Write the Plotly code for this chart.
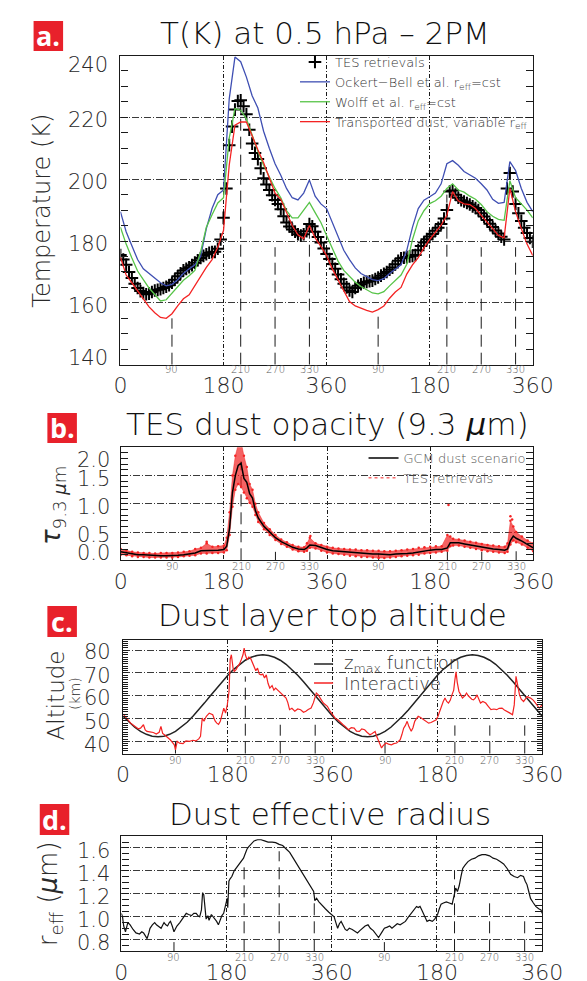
import plotly.graph_objects as go

# ---------------------------------------------------------------- data
LS_10 = list(range(0, 721, 10))
LS_5 = list(range(0, 721, 5))

# panel a : temperature at 0.5 hPa, 2PM (K)
T_OCKERT_BELL = [189.5, 183.0, 178.5, 174.0, 171.0, 169.5, 168.2, 166.5, 165.5, 166.0,
                 167.5, 169.5, 171.0, 172.3, 175.0, 184.0, 190.5, 195.0, 196.5, 226.0,
                 239.5, 238.0, 233.0, 227.0, 223.0, 215.5, 210.0, 205.0, 201.3, 197.0,
                 194.0, 193.3, 195.5, 199.7, 194.5, 192.0, 190.5, 186.0, 181.5, 177.0,
                 174.0, 171.3, 169.5, 168.4, 167.5, 167.2, 167.8, 169.5, 171.0, 172.3,
                 177.0, 184.5, 190.5, 193.2, 194.3, 195.5, 198.5, 205.0, 206.0, 204.5,
                 202.5, 201.5, 200.3, 198.5, 196.5, 193.5, 192.2, 192.5, 205.7, 202.8,
                 197.0, 192.5, 189.5]
T_WOLFF = [184.5, 179.0, 174.5, 170.3, 167.5, 164.8, 162.7, 160.6, 161.0, 163.0,
           165.0, 167.3, 168.8, 170.5, 176.5, 184.5, 188.5, 192.3, 194.0, 213.3,
           222.8, 222.3, 219.5, 214.0, 209.0, 204.5, 200.5, 197.0, 194.0, 189.8,
           187.5, 187.5, 190.0, 192.5, 189.2, 186.0, 181.8, 177.5, 173.5, 170.5,
           168.5, 166.7, 165.3, 164.2, 163.2, 162.9, 163.6, 165.5, 167.3, 169.0,
           172.5, 180.5, 186.5, 189.8, 192.1, 193.0, 194.5, 197.0, 198.5, 196.5,
           195.8, 194.5, 193.5, 191.8, 189.5, 188.0, 187.0, 186.7, 199.5, 194.0,
           192.0, 190.0, 187.5]
T_TRANSPORTED = [174.8, 169.0, 166.5, 164.0, 161.2, 158.7, 156.8, 155.3, 155.0, 156.5,
                 159.0, 161.3, 162.6, 165.5, 168.8, 171.5, 174.0, 178.0, 183.4, 204.6,
                 217.5, 218.5, 218.5, 213.8, 209.5, 205.3, 200.5, 195.5, 193.5, 189.5,
                 185.0, 182.0, 180.7, 185.0, 181.0, 178.3, 175.3, 171.0, 167.6, 164.2,
                 160.4, 159.0, 158.2, 157.6, 157.0, 157.8, 159.0, 161.5, 163.5, 165.0,
                 169.3, 172.3, 174.6, 177.8, 180.5, 182.9, 185.1, 188.3, 196.0, 193.0,
                 192.0, 191.8, 190.5, 188.3, 186.3, 184.0, 181.8, 181.0, 197.0, 189.5,
                 184.0, 179.0, 175.3]
T_TES = [175.5, 174.0, 172.3, 170.0, 168.0, 166.2, 164.8, 163.8, 163.2, 162.8,
         163.0, 163.5, 164.0, 164.2, 164.4, 164.8, 165.2, 165.7, 166.5, 167.5,
         168.6, 169.6, 170.5, 171.0, 171.5, 172.2, 173.0, 173.8, 174.5, 175.2,
         175.7, 176.2, 176.4, 176.5, 177.5, 180.5, 187.5, 197.0, 211.0, 217.0,
         222.5, 225.3, 225.5, 223.6, 221.0, 216.0, 211.5, 208.5, 206.5, 203.5,
         200.3, 198.3, 196.5, 194.8, 193.3, 192.0, 190.3, 188.0, 186.0, 184.7,
         183.7, 183.0, 182.2, 181.8, 182.2, 183.2, 185.5, 184.8, 183.0, 181.3,
         179.5, 177.6, 175.8, 174.2, 172.6, 171.0, 169.2, 167.6, 166.2, 165.0,
         164.0, 163.5, 164.8, 165.5, 166.0, 166.5, 166.8, 167.0, 167.2, 167.7,
         168.2, 168.8, 169.4, 170.0, 170.7, 171.4, 172.5, 173.6, 174.4, 174.6,
         174.8, 175.0, 175.2, 175.5, 177.0, 178.4, 179.5, 180.6, 181.5, 182.3,
         183.3, 184.3, 185.5, 187.3, 190.0, 196.0, 196.3, 195.0, 194.0, 193.2,
         192.8, 192.3, 191.8, 191.2, 190.7, 190.0, 189.0, 187.9, 186.8, 185.6,
         184.5, 183.4, 182.4, 181.4, 180.5, 197.0, 202.0, 196.0, 192.0, 189.0,
         186.5, 184.3, 182.6, 181.0, 179.8]

# panel b : dust opacity at 9.3 micron
LS_TAU = [0, 10, 20, 30, 40, 50, 60, 70, 80, 90,
          100, 110, 120, 130, 140, 150, 160, 170, 180, 185,
          190, 195, 200, 205, 210, 215, 220, 225, 230, 235,
          240, 250, 260, 270, 280, 290, 300, 310, 320, 325,
          330, 340, 350, 360, 370, 380, 390, 400, 410, 420,
          430, 440, 450, 460, 470, 480, 490, 500, 510, 520,
          530, 540, 550, 560, 570, 575, 580, 590, 600, 610,
          620, 630, 640, 650, 660, 670, 675, 680, 685, 690,
          700, 710, 720]
TAU_GCM = [0.15, 0.13, 0.11, 0.10, 0.10, 0.09, 0.08, 0.08, 0.08, 0.08,
           0.09, 0.10, 0.11, 0.13, 0.17, 0.17, 0.18, 0.18, 0.19, 0.25,
           0.57, 1.20, 1.50, 1.68, 1.72, 1.45, 1.38, 1.18, 1.10, 0.88,
           0.75, 0.60, 0.50, 0.40, 0.33, 0.28, 0.23, 0.20, 0.19, 0.22,
           0.27, 0.26, 0.22, 0.19, 0.17, 0.16, 0.15, 0.14, 0.13, 0.12,
           0.12, 0.11, 0.11, 0.10, 0.10, 0.11, 0.11, 0.12, 0.13, 0.15,
           0.17, 0.18, 0.19, 0.19, 0.22, 0.31, 0.31, 0.31, 0.29, 0.27,
           0.25, 0.23, 0.21, 0.20, 0.19, 0.18, 0.20, 0.35, 0.43, 0.39,
           0.34, 0.28, 0.22]
TAU_TES_LO = [0.10, 0.09, 0.07, 0.06, 0.06, 0.05, 0.05, 0.05, 0.05, 0.05,
              0.06, 0.07, 0.08, 0.09, 0.12, 0.12, 0.13, 0.13, 0.14, 0.18,
              0.45, 0.95, 1.25, 1.35, 1.30, 1.20, 1.10, 1.02, 0.95, 0.80,
              0.68, 0.55, 0.45, 0.36, 0.29, 0.24, 0.19, 0.16, 0.15, 0.17,
              0.22, 0.21, 0.17, 0.14, 0.12, 0.11, 0.10, 0.08, 0.07, 0.06,
              0.06, 0.05, 0.04, 0.04, 0.05, 0.06, 0.07, 0.08, 0.09, 0.10,
              0.12, 0.13, 0.14, 0.15, 0.17, 0.25, 0.26, 0.26, 0.24, 0.22,
              0.20, 0.18, 0.16, 0.15, 0.14, 0.13, 0.15, 0.28, 0.35, 0.32,
              0.28, 0.22, 0.16]
TAU_TES_HI = [0.20, 0.17, 0.15, 0.14, 0.13, 0.13, 0.12, 0.13, 0.13, 0.13,
              0.14, 0.15, 0.16, 0.20, 0.22, 0.30, 0.24, 0.25, 0.26, 0.40,
              0.85, 1.50, 1.85, 2.05, 2.10, 1.85, 1.65, 1.35, 1.25, 1.00,
              0.85, 0.66, 0.55, 0.45, 0.37, 0.32, 0.27, 0.24, 0.23, 0.30,
              0.40, 0.30, 0.27, 0.24, 0.22, 0.21, 0.20, 0.19, 0.19, 0.18,
              0.18, 0.17, 0.17, 0.16, 0.16, 0.17, 0.18, 0.19, 0.20, 0.22,
              0.23, 0.24, 0.25, 0.25, 0.45, 0.42, 0.38, 0.37, 0.35, 0.33,
              0.31, 0.29, 0.27, 0.26, 0.25, 0.24, 0.30, 0.70, 0.60, 0.50,
              0.42, 0.35, 0.30]
LS_TAU_OUT = [150, 203, 207, 212, 331, 572, 680, 683]
TAU_TES_OUT = [0.33, 2.08, 2.12, 2.05, 0.43, 0.98, 0.78, 0.72]

# panel c : dust layer top altitude (km)
Z_MAX = [51.0, 48.4, 46.2, 44.4, 43.1, 42.3, 42.0, 42.3, 43.1, 44.4,
         46.2, 48.4, 51.0, 53.8, 56.9, 60.0, 63.1, 66.2, 69.0, 71.6,
         73.8, 75.6, 76.9, 77.7, 78.0, 77.7, 76.9, 75.6, 73.8, 71.6,
         69.0, 66.2, 63.1, 60.0, 56.9, 53.8, 51.0, 48.4, 46.2, 44.4,
         43.1, 42.3, 42.0, 42.3, 43.1, 44.4, 46.2, 48.4, 51.0, 53.8,
         56.9, 60.0, 63.1, 66.2, 69.0, 71.6, 73.8, 75.6, 76.9, 77.7,
         78.0, 77.7, 76.9, 75.6, 73.8, 71.6, 69.0, 66.2, 63.1, 60.0,
         56.9, 53.8, 51.0]
LS_ZINT = [0, 4, 8, 13, 18, 22, 26, 30, 35, 38, 41, 46, 52, 57, 62, 65, 68, 71, 76, 81,
           85, 88, 90, 93, 97, 103, 108, 114, 120, 125, 130, 133, 136, 139, 143, 148, 154, 158, 161, 164,
           167, 170, 173, 176, 179, 182, 184, 186, 189, 191, 194, 197, 200, 203, 206, 208, 210, 213, 216, 219,
           222, 225, 228, 231, 234, 237, 240, 243, 246, 249, 252, 256, 259, 262, 266, 271, 275, 280, 283, 286,
           290, 295, 300, 305, 310, 314, 318, 323, 327, 330, 332, 335, 338, 341, 344, 348, 351, 355, 360, 365,
           369, 374, 378, 382, 387, 392, 397, 401, 406, 410, 415, 419, 424, 428, 433, 436, 439, 442, 444, 447,
           452, 456, 461, 465, 470, 473, 476, 479, 482, 485, 488, 491, 495, 498, 501, 504, 507, 511, 516, 520,
           525, 529, 534, 538, 541, 544, 547, 550, 553, 556, 559, 562, 565, 568, 570, 572, 574, 577, 580, 583,
           587, 590, 593, 596, 599, 602, 605, 608, 611, 614, 618, 623, 627, 632, 637, 642, 646, 651, 655, 660,
           664, 669, 672, 675, 678, 681, 684, 688, 691, 694, 697, 700, 705, 709, 712, 715, 718, 720]
Z_INTERACTIVE = [52, 50.5, 49.5, 48, 47, 46.6, 45.5, 45.8, 47.3, 45, 44.4, 44.2, 43.9, 43.2, 44, 46.6, 43.5, 42.9, 42, 40.7,
                 39.5, 38.5, 36.3, 40, 39.2, 39, 40.2, 40, 40.5, 40.2, 41.1, 42.2, 50.2, 48.8, 51, 52.4, 51.7, 49, 48, 47.5,
                 48.8, 52, 54.6, 52.4, 56, 61.9, 76, 78, 72, 70.7, 71.5, 72.9, 74, 75.8, 78, 80.9, 78, 75.8, 77, 76.5,
                 74.5, 72.9, 71, 72.1, 69.5, 69.2, 69.5, 67.8, 69.2, 65.5, 63.4, 64.5, 62.5, 63.4, 62.5, 61.2, 60.5, 59, 57, 53.9,
                 54.5, 53.2, 54.2, 53.9, 52.8, 53.2, 54, 54.6, 57, 60, 61.2, 60.5, 59, 58, 56.8, 56, 55.4, 53.5, 51.7, 50,
                 49.5, 48, 47.3, 46.5, 45.1, 46, 45.8, 44.5, 44.4, 45.5, 45.1, 44, 42.9, 43.5, 44.4, 42, 40, 38.5, 37.1, 38.2,
                 39.3, 38.8, 38.5, 39, 39.3, 40, 40.7, 43, 45.8, 47, 48.8, 46.5, 44.4, 46, 48.8, 50, 51, 50.5, 49.5, 49,
                 48, 48.3, 48.8, 49.5, 51, 53.5, 56.1, 57.5, 59, 57.5, 56.8, 58, 60.4, 62.5, 67, 70.5, 66, 61.9, 60.5, 59,
                 60, 61.2, 60, 59, 58.5, 58.2, 59, 60.4, 58.5, 56.8, 57.5, 56.8, 55.5, 53.9, 54.2, 53.9, 54.5, 54.6, 53.8, 53.2,
                 52.5, 51.7, 56, 68.5, 64, 60.4, 58.5, 57.5, 58.5, 59.7, 59.3, 59, 58, 56.8, 55.5, 54.6, 55.5, 56.1]

# panel d : dust effective radius (micron)
LS_REFF = [0, 2, 4, 7, 11, 15, 20, 25, 31, 35, 38, 41, 44, 47, 49, 53, 57, 60, 63, 68,
           71, 73, 76, 79, 82, 84, 87, 90, 93, 95, 100, 103, 106, 109, 111, 115, 120, 124, 128, 131,
           134, 137, 139, 141, 143, 145, 148, 150, 154, 157, 160, 163, 166, 169, 172, 175, 178, 181, 182, 184,
           186, 189, 193, 196, 199, 204, 209, 212, 215, 218, 221, 227, 233, 239, 245, 251, 258, 264, 270, 276,
           282, 288, 294, 300, 306, 312, 318, 324, 329, 331, 334, 338, 343, 349, 355, 360, 364, 367, 370, 373,
           376, 380, 383, 386, 390, 395, 400, 404, 408, 413, 417, 422, 426, 431, 435, 440, 445, 450, 455, 459,
           463, 468, 472, 477, 482, 486, 490, 495, 500, 505, 508, 511, 514, 517, 520, 523, 527, 532, 536, 541,
           544, 547, 551, 556, 561, 566, 569, 572, 575, 578, 581, 584, 588, 593, 599, 605, 611, 617, 623, 630,
           636, 642, 648, 654, 660, 666, 672, 678, 683, 688, 691, 694, 697, 700, 705, 709, 714, 718, 720]
REFF = [1.03, 1.0, 0.92, 0.87, 0.95, 0.93, 0.89, 0.86, 0.85, 0.87, 0.86, 0.84, 0.81, 0.86, 0.90, 0.93, 0.95, 0.93, 0.92, 0.90,
        0.93, 0.95, 0.93, 0.92, 0.95, 0.96, 0.92, 0.87, 0.90, 0.92, 0.95, 0.97, 0.99, 1.01, 1.03, 1.02, 1.01, 1.03, 1.03, 1.01,
        1.0, 1.06, 1.21, 1.19, 1.06, 0.98, 1.01, 0.97, 1.02, 1.0, 0.99, 0.96, 0.93, 0.98, 1.01, 1.03, 1.09, 1.16, 1.08, 1.31,
        1.33, 1.35, 1.40, 1.42, 1.44, 1.47, 1.51, 1.55, 1.59, 1.61, 1.63, 1.66, 1.67, 1.67, 1.66, 1.65, 1.65, 1.645, 1.63, 1.62,
        1.59, 1.56, 1.51, 1.46, 1.40, 1.35, 1.30, 1.25, 1.22, 1.14, 1.16, 1.13, 1.10, 1.07, 1.04, 1.02, 1.0, 0.95, 0.90, 0.94,
        0.96, 0.92, 0.89, 0.88, 0.90, 0.89, 0.87, 0.86, 0.88, 0.90, 0.92, 0.93, 0.90, 0.88, 0.85, 0.82, 0.86, 0.90, 0.91, 0.92,
        0.90, 0.92, 0.94, 0.93, 0.95, 0.96, 0.99, 1.02, 1.06, 1.09, 1.08, 1.09, 1.06, 1.03, 0.99, 0.96, 0.97, 0.96, 0.98, 1.02,
        1.07, 1.11, 1.12, 1.13, 1.12, 1.11, 1.18, 1.25, 1.22, 1.27, 1.35, 1.42, 1.45, 1.48, 1.50, 1.51, 1.53, 1.54, 1.54, 1.53,
        1.51, 1.50, 1.48, 1.46, 1.42, 1.37, 1.35, 1.34, 1.36, 1.35, 1.31, 1.28, 1.22, 1.16, 1.12, 1.09, 1.07, 1.06, 1.03]

# Ls markers (dashed drop lines) and their tops in each panel
MARK_LS = [90, 210, 270, 330, 450, 570, 630, 690]
MARK_TEXT = ["90", "210", "270", "330", "90", "210", "270", "330"]
MARK_TOP_T = [155, 225, 178, 186, 156, 195, 178, 178]
MARK_TOP_TAU = [0.10, 1.75, 0.15, 0.15, 0.12, 0.15, 0.15, 0.16]
MARK_TOP_Z = [40, 68.5, 47.3, 47.3, 40.7, 47, 47, 47]
MARK_TOP_R = [0.78, 1.43, 1.57, 1.16, 0.78, 1.40, 1.16, 0.99]

MAJOR_LS = [0, 180, 360, 540, 720]
MAJOR_TEXT = ["0", "180", "360", "180", "360"]

for a, b in [(LS_10, T_OCKERT_BELL), (LS_10, T_WOLFF), (LS_10, T_TRANSPORTED), (LS_5, T_TES),
             (LS_TAU, TAU_GCM), (LS_TAU, TAU_TES_LO), (LS_TAU, TAU_TES_HI), (LS_10, Z_MAX),
             (LS_ZINT, Z_INTERACTIVE), (LS_REFF, REFF)]:
    assert len(a) == len(b), (len(a), len(b))

# ---------------------------------------------------------------- style
W, H = 587, 981
FONT = "DejaVu Sans"
LIGHT = 200
INK = "#1a1a1a"
TXT = "#2a2a2a"
BLUE = "#3f4fb3"
GREEN = "#57c448"
RED = "#f42323"
PANEL_RED = "#e8212b"


def fx(px):
    return px / W


def fy(py):
    return 1 - py / H


panels = [
    dict(n="", xd=(110.7, 543.7), yd=(47.5, 356.7), yr=[140, 240], t0=140, dt=20, m0=140, mdt=5, tl=7, ms=-5),
    dict(n="2", xd=(111.0, 544.3), yd=(439.3, 552.3), yr=[0, 2.0], t0=0, dt=0.5, m0=0, mdt=0.1, tl=7, ms=-6),
    dict(n="3", xd=(113.5, 553.6), yd=(631.7, 745.7), yr=[34.6, 84.6], t0=40, dt=10, m0=35, mdt=1, tl=5, ms=-6.5),
    dict(n="4", xd=(111.7, 553.6), yd=(828.3, 943.3), yr=[0.70, 1.70], t0=0.8, dt=0.2, m0=0.7, mdt=0.05, tl=7, ms=-6),
]

fig = go.Figure()
layout = dict(width=W, height=H, margin=dict(l=0, r=0, t=0, b=0),
              plot_bgcolor="white", paper_bgcolor="white", showlegend=True,
              font=dict(family=FONT, color=TXT, weight=LIGHT))

for p in panels:
    n = p["n"]
    layout["xaxis" + n] = dict(
        domain=[fx(p["xd"][0]), fx(p["xd"][1])], range=[0, 720], anchor="y" + n,
        tickmode="array", tickvals=MAJOR_LS, ticktext=MAJOR_TEXT, ticks="",
        tickfont=dict(family=FONT, size=22, color=TXT, weight=LIGHT), ticklabelstandoff=1,
        showgrid=True, gridcolor=INK, gridwidth=1, griddash="4px,2px,1px,2px",
        zeroline=False, showline=True, linecolor=INK, linewidth=1.3, mirror=True)
    layout["yaxis" + n] = dict(
        domain=[fy(p["yd"][1]), fy(p["yd"][0])], range=p["yr"], anchor="x" + n,
        tickmode="linear", tick0=p["t0"], dtick=p["dt"], ticks="inside", ticklen=p["tl"],
        tickcolor=INK, tickwidth=1, showticklabels=False,
        showgrid=True, gridcolor="#3a3a3a", gridwidth=1, griddash="7px,2px,1px,2px",
        minor=dict(tickmode="linear", tick0=p["m0"], dtick=p["mdt"], ticks="inside",
                   ticklen=p["tl"], tickcolor=INK, tickwidth=1, showgrid=False),
        zeroline=False, showline=True, linecolor=INK, linewidth=1.3, mirror="allticks")


def drop_lines(n, tops, ybottom):
    xs, ys = [], []
    for ls, top in zip(MARK_LS, tops):
        xs += [ls, ls, None]
        ys += [ybottom, top, None]
    fig.add_trace(go.Scatter(x=xs, y=ys, xaxis="x" + n, yaxis="y" + n, mode="lines",
                             line=dict(color=INK, width=1, dash="12px,6px"),
                             showlegend=False, hoverinfo="skip", cliponaxis=True))


# ---------------- panel a
drop_lines("", MARK_TOP_T, panels[0]["yr"][0])
fig.add_trace(go.Scatter(x=LS_5, y=T_TES, mode="markers", name="TES retrievals",
                         marker=dict(symbol="cross-thin", size=9, line=dict(width=2, color="black")),
                         legend="legend"))
fig.add_trace(go.Scatter(x=LS_10, y=T_OCKERT_BELL, mode="lines",
                         name="Ockert\u2212Bell et al. r<sub>eff</sub>=cst",
                         line=dict(color=BLUE, width=1.3), legend="legend"))
fig.add_trace(go.Scatter(x=LS_10, y=T_WOLFF, mode="lines", name="Wolff et al. r<sub>eff</sub>=cst",
                         line=dict(color=GREEN, width=1.3), legend="legend"))
fig.add_trace(go.Scatter(x=LS_10, y=T_TRANSPORTED, mode="lines",
                         name="Transported dust, variable r<sub>eff</sub>",
                         line=dict(color=RED, width=1.3), legend="legend"))

# ---------------- panel b
drop_lines("2", MARK_TOP_TAU, panels[1]["yr"][0])
fig.add_trace(go.Scatter(x=LS_TAU, y=TAU_TES_LO, xaxis="x2", yaxis="y2", mode="lines+markers",
                         line=dict(color="rgba(240,25,25,0.7)", width=0.6),
                         marker=dict(color=RED, size=2.5), showlegend=False))
fig.add_trace(go.Scatter(x=LS_TAU, y=TAU_TES_HI, xaxis="x2", yaxis="y2", mode="lines+markers",
                         line=dict(color="rgba(240,25,25,0.7)", width=0.6),
                         marker=dict(color=RED, size=2.5), fill="tonexty",
                         fillcolor="rgba(240,25,25,0.68)", showlegend=False))
fig.add_trace(go.Scatter(x=LS_TAU_OUT, y=TAU_TES_OUT, xaxis="x2", yaxis="y2", mode="markers",
                         marker=dict(color=RED, size=2.5), showlegend=False))
fig.add_trace(go.Scatter(x=LS_TAU, y=TAU_GCM, xaxis="x2", yaxis="y2", mode="lines",
                         name="GCM dust scenario", line=dict(color="black", width=1.5),
                         legend="legend2"))
fig.add_trace(go.Scatter(x=[None], y=[None], xaxis="x2", yaxis="y2", mode="lines",
                         name="TES retrievals", line=dict(color=RED, width=1, dash="dot"),
                         legend="legend2"))

# ---------------- panel c
drop_lines("3", MARK_TOP_Z, panels[2]["yr"][0])
fig.add_trace(go.Scatter(x=LS_10, y=Z_MAX, xaxis="x3", yaxis="y3", mode="lines",
                         line=dict(color="#222222", width=1.5), showlegend=False))
fig.add_trace(go.Scatter(x=LS_ZINT, y=Z_INTERACTIVE, xaxis="x3", yaxis="y3", mode="lines",
                         line=dict(color=RED, width=1.2), showlegend=False))

# ---------------- panel d
drop_lines("4", MARK_TOP_R, panels[3]["yr"][0])
fig.add_trace(go.Scatter(x=LS_REFF, y=REFF, xaxis="x4", yaxis="y4", mode="lines",
                         line=dict(color="#111111", width=1.2), showlegend=False))

# legends (a and b from plotly's legend; c drawn as a key)
layout["legend"] = dict(x=fx(294), y=fy(39), xanchor="left", yanchor="top", traceorder="normal",
                        bgcolor="rgba(0,0,0,0)", font=dict(family=FONT, size=13, color="#333333", weight=LIGHT))
layout["legend2"] = dict(x=fx(366), y=fy(435), xanchor="left", yanchor="top", traceorder="normal",
                         bgcolor="rgba(0,0,0,0)", font=dict(family=FONT, size=13, color="#555555", weight=LIGHT))

fig.update_layout(**layout)

key_c = [("z<sub>max</sub> function", "#222222", 656), ("Interactive", RED, 675)]
for t, col, y in key_c:
    fig.add_shape(type="line", xref="paper", yref="paper", x0=fx(314), x1=fx(334), y0=fy(y), y1=fy(y),
                  line=dict(color=col, width=1.5))
    fig.add_annotation(text=t, x=fx(343), y=fy(y), xref="paper", yref="paper", showarrow=False,
                       xanchor="left", yanchor="middle",
                       font=dict(family=FONT, size=18, color="#333333", weight=LIGHT))

# ---------------- annotations: titles, panel letters, axis labels
titles = [("T(K) at 0.5 hPa \u2013 2PM", 326, 25),
          ("TES dust opacity (9.3 <i>\u00b5</i>m)", 328, 416),
          ("Dust layer top altitude", 333, 607),
          ("Dust effective radius", 331, 806)]
for t, x, y in titles:
    fig.add_annotation(text=t, x=fx(x), y=fy(y), xref="paper", yref="paper", showarrow=False,
                       xanchor="center", yanchor="middle",
                       font=dict(family=FONT, size=31, color="#111111", weight=LIGHT))

letters = [("a.", 19.5, 13, 50.5, 43), ("b.", 34, 405, 65, 435),
           ("c.", 34, 598, 65, 629), ("d.", 26, 796, 57, 827)]
for t, x0, y0, x1, y1 in letters:
    fig.add_shape(type="rect", xref="paper", yref="paper", x0=fx(x0), x1=fx(x1), y0=fy(y1), y1=fy(y0),
                  fillcolor=PANEL_RED, line=dict(width=0), layer="above")
    fig.add_annotation(text="<b>%s</b>" % t, x=fx((x0 + x1) / 2), y=fy((y0 + y1) / 2), xref="paper",
                       yref="paper", showarrow=False, xanchor="center", yanchor="middle",
                       font=dict(family="Open Sans", size=27, color="white", weight=700))

ylab = [
    ("", [140, 160, 180, 200, 220, 240], ["140", "160", "180", "200", "220", "240"], [7, -3, -3, -3, -3, -10], 100),
    ("2", [0, 0.5, 1.0, 1.5, 2.0], ["0.0", "0.5", "1.0", "1.5", "2.0"], [7, -3, -3, -3, -13], 101.7),
    ("3", [40, 50, 60, 70, 80], ["40", "50", "60", "70", "80"], [-4, -3, -2, -3, -2], 103.3),
    ("4", [0.8, 1.0, 1.2, 1.4, 1.6], ["0.8", "1.0", "1.2", "1.4", "1.6"], [-3, -3, -3, -3, -3], 101.7),
]
for (n, vals, texts, shifts, xr), p in zip(ylab, panels):
    for v, t, s in zip(vals, texts, shifts):
        fig.add_annotation(text=t, x=fx(xr), y=v, xref="paper", yref="y" + n, xanchor="right",
                           yanchor="middle", yshift=s, showarrow=False,
                           font=dict(family=FONT, size=21, color=TXT, weight=LIGHT))
    for ls, t in zip(MARK_LS, MARK_TEXT):
        fig.add_annotation(text=t, x=ls, y=0, xref="x" + n, yref="y" + n + " domain", xanchor="center",
                           yanchor="middle", yshift=p["ms"], showarrow=False, borderpad=0,
                           font=dict(family=FONT, size=10, color="#555555", weight=LIGHT))

ytitles = [("Temperature (K)", 28, 203, 24),
           ("<i>\u03c4</i><sub>9.3 <i>\u00b5</i>m</sub>", 40, 497, 26),
           ("Altitude", 43.5, 687, 23),
           ("(km)", 63, 685, 14),
           ("r<sub>eff</sub> (<i>\u00b5</i>m)", 36, 886, 26)]
for t, x, y, s in ytitles:
    fig.add_annotation(text=t, x=fx(x), y=fy(y), xref="paper", yref="paper", showarrow=False,
                       textangle=-90, xanchor="center", yanchor="middle",
                       font=dict(family=FONT, size=s, color=TXT, weight=LIGHT))

fig.write_html("out.html")
